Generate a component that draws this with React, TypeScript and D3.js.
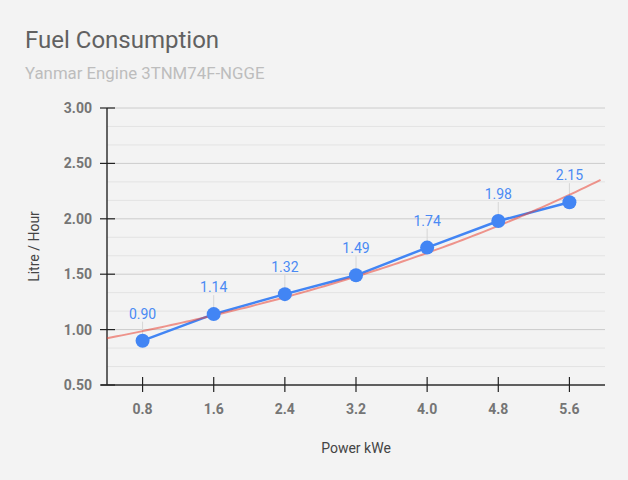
import React from "react";
import * as d3 from "d3";

const powerKwe = [0.8, 1.6, 2.4, 3.2, 4.0, 4.8, 5.6];
const litrePerHour = [0.9, 1.14, 1.32, 1.49, 1.74, 1.98, 2.15];
const xTicks = [0.8, 1.6, 2.4, 3.2, 4.0, 4.8, 5.6];
const yTicks = [0.5, 1.0, 1.5, 2.0, 2.5, 3.0];

const W = 628;
const H = 480;
const FONT = "Roboto, 'Noto Sans', sans-serif";

// Exponential trend y = A * exp(B * x): log-space fit refined by Gauss-Newton
function expTrend(xs: number[], ys: number[]) {
  const ln = ys.map((v) => Math.log(v));
  const mx = d3.mean(xs) as number;
  const my = d3.mean(ln) as number;
  let sxy = 0;
  let sxx = 0;
  xs.forEach((x, i) => {
    sxy += (x - mx) * (ln[i] - my);
    sxx += (x - mx) * (x - mx);
  });
  let b = sxy / sxx;
  let A = Math.exp(my - b * mx);
  for (let it = 0; it < 50; it++) {
    let jaa = 0, jab = 0, jbb = 0, ra = 0, rb = 0;
    xs.forEach((x, i) => {
      const e = Math.exp(b * x);
      const f = A * e;
      const r = ys[i] - f;
      const da = e;
      const db = A * x * e;
      jaa += da * da;
      jab += da * db;
      jbb += db * db;
      ra += da * r;
      rb += db * r;
    });
    const det = jaa * jbb - jab * jab;
    const dA = (jbb * ra - jab * rb) / det;
    const dB = (jaa * rb - jab * ra) / det;
    A += dA;
    b += dB;
    if (Math.abs(dA) + Math.abs(dB) < 1e-12) break;
  }
  return (x: number) => A * Math.exp(b * x);
}

export default function App() {
  const left = 107;
  const right = 605;
  const top = 108;
  const bottom = 385;

  const x = d3.scaleLinear().domain([0.4, 6.0]).range([left, right]);
  const y = d3.scaleLinear().domain([0.5, 3.0]).range([bottom, top]);

  const data = powerKwe.map((p, i) => ({ p, v: litrePerHour[i] }));
  const trend = expTrend(powerKwe, litrePerHour);
  const t0 = 0.4;
  const t1 = 5.95;
  const trendPts = d3.range(0, 101).map((i) => {
    const px = t0 + ((t1 - t0) * i) / 100;
    return [px, trend(px)] as [number, number];
  });

  const line = d3
    .line<{ p: number; v: number }>()
    .x((d) => x(d.p))
    .y((d) => y(d.v));
  const trendLine = d3
    .line<[number, number]>()
    .x((d) => x(d[0]))
    .y((d) => y(d[1]));

  // minor gridlines: two between each major step
  const minor: number[] = [];
  for (let i = 0; i < yTicks.length - 1; i++) {
    const step = (yTicks[i + 1] - yTicks[i]) / 3;
    minor.push(yTicks[i] + step, yTicks[i] + 2 * step);
  }

  return (
    <div style={{ position: "absolute", left: 0, top: 0 }}>
      <svg width={W} height={H} style={{ display: "block" }}>
        <rect width={W} height={H} fill="#f3f3f3" />
        <text x={25} y={48} fontFamily={FONT} fontSize={24} fill="#616161">
          Fuel Consumption
        </text>
        <text x={25} y={79} fontFamily={FONT} fontSize={16.8} fill="#bdbdbd">
          Yanmar Engine 3TNM74F-NGGE
        </text>

        {minor.map((v, i) => (
          <line key={"m" + i} x1={left} x2={right} y1={y(v)} y2={y(v)} stroke="#e3e3e3" strokeWidth={1} />
        ))}
        {yTicks.map((v) => (
          <line key={"g" + v} x1={left} x2={right} y1={y(v)} y2={y(v)} stroke="#cccccc" strokeWidth={1} />
        ))}

        {/* axes */}
        <line x1={left} x2={left} y1={top} y2={bottom} stroke="#333" strokeWidth={1.5} />
        <line x1={left - 6} x2={right} y1={bottom} y2={bottom} stroke="#333" strokeWidth={1.5} />
        {yTicks.map((v) => (
          <g key={"yt" + v}>
            <line x1={left - 7} x2={left + 8} y1={y(v)} y2={y(v)} stroke="#222" strokeWidth={1.2} />
            <text x={left - 15} y={y(v)} dy="0.35em" textAnchor="end" fontFamily={FONT} fontSize={14} fontWeight="bold" fill="#757575">
              {d3.format(".2f")(v)}
            </text>
          </g>
        ))}
        {xTicks.map((v) => (
          <g key={"xt" + v}>
            <line x1={x(v)} x2={x(v)} y1={bottom - 8} y2={bottom + 7} stroke="#222" strokeWidth={1.2} />
            <text x={x(v)} y={409} dy="0.35em" textAnchor="middle" fontFamily={FONT} fontSize={14} fontWeight="bold" fill="#757575">
              {d3.format(".1f")(v)}
            </text>
          </g>
        ))}
        <text x={(left + right) / 2} y={448} dy="0.35em" textAnchor="middle" fontFamily={FONT} fontSize={14} fill="#444">
          Power kWe
        </text>
        <text
          transform={`translate(34,${(top + bottom) / 2}) rotate(-90)`}
          dy="0.35em"
          textAnchor="middle"
          fontFamily={FONT}
          fontSize={14}
          fill="#444"
        >
          Litre / Hour
        </text>

        {/* value annotations with stems */}
        {data.map((d) => (
          <line key={"s" + d.p} x1={x(d.p)} x2={x(d.p)} y1={y(d.v) - 19} y2={y(d.v)} stroke="#d6d6d6" strokeWidth={1} />
        ))}

        <path d={line(data) || ""} fill="none" stroke="#4285f4" strokeWidth={2.5} />
        <path d={trendLine(trendPts) || ""} fill="none" stroke="#ea4335" strokeOpacity={0.55} strokeWidth={2} />
        {data.map((d) => (
          <circle key={"c" + d.p} cx={x(d.p)} cy={y(d.v)} r={7} fill="#4285f4" />
        ))}
        {data.map((d) => (
          <text key={"l" + d.p} x={x(d.p)} y={y(d.v) - 22} textAnchor="middle" fontFamily={FONT} fontSize={14} fill="#4a8af4">
            {d3.format(".2f")(d.v)}
          </text>
        ))}
      </svg>
    </div>
  );
}
